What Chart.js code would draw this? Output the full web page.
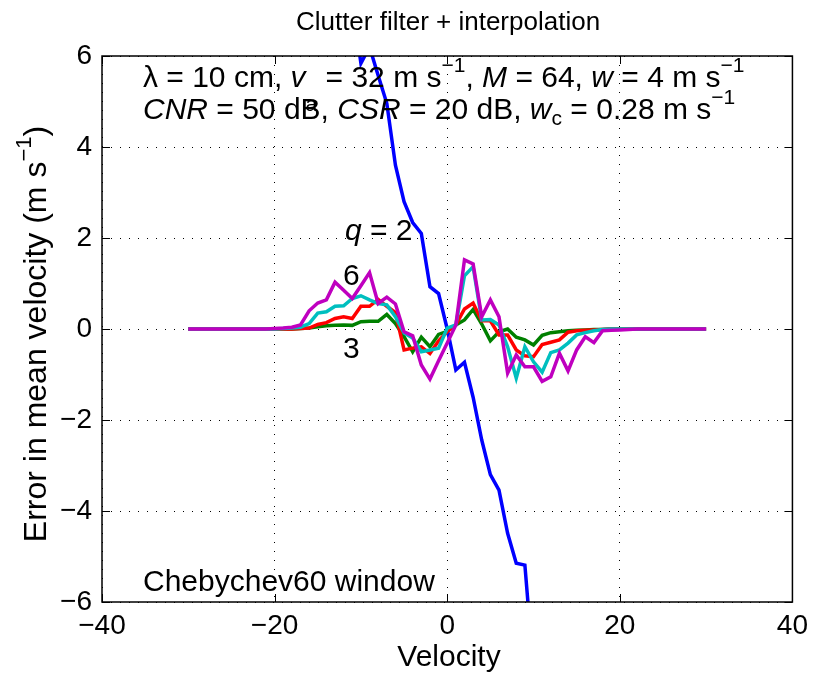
<!DOCTYPE html>
<html>
<head>
<meta charset="utf-8">
<script src="https://cdn.jsdelivr.net/npm/chart.js@4/dist/chart.umd.min.js"></script>
<style>body{margin:0;background:#fff}</style>
</head>
<body>
<canvas id="myChart" width="815" height="675"></canvas>
<script>
// velocity bins (m/s)
const velocity = [];
for (let v = -30; v <= 30; v++) velocity.push(v);

// error in mean velocity, one array per q
const q2 = [null, null, null, null, null, null, null, null, null, null,
  null, null, null, null, null, null, null, null, null, 7.2,
  5.84, 6.2, 5.57, 4.96, 3.6, 2.8, 2.34, 2.1, 0.93, 0.78,
  0.0, -0.9, -0.73, -1.5, -2.44, -3.2, -3.54, -4.49, -5.15, -5.19,
  -7.5, null, null, null, null, null, null, null, null, null,
  null, null, null, null, null, null, null, null, null, null, null];
const q3 = [0, 0, 0, 0, 0, 0, 0, 0, 0, 0,
  0, 0, 0, 0.01, 0.02, 0.05, 0.07, 0.08, 0.09, 0.08,
  0.16, 0.17, 0.17, 0.32, 0.12, -0.17, -0.5, -0.18, -0.39, -0.12,
  -0.05, 0.09, 0.2, 0.43, 0.11, -0.26, -0.06, 0.0, -0.18, -0.24,
  -0.35, -0.14, -0.08, -0.06, -0.04, -0.03, -0.02, -0.01, -0.01, 0,
  0, 0, 0, 0, 0, 0, 0, 0, 0, 0, 0];
const q4 = [0, 0, 0, 0, 0, 0, 0, 0, 0, 0,
  0, 0, 0, 0.01, 0.02, 0.10, 0.14, 0.23, 0.27, 0.23,
  0.5, 0.5, 0.65, 0.5, 0.36, -0.46, -0.42, -0.39, -0.54, -0.26,
  -0.06, 0.09, 0.44, 0.57, 0.18, 0.18, -0.13, -0.13, -0.46, -0.59,
  -0.61, -0.34, -0.29, -0.24, -0.07, -0.04, -0.03, -0.02, -0.01, 0,
  0, 0, 0, 0, 0, 0, 0, 0, 0, 0, 0];
const q5 = [0, 0, 0, 0, 0, 0, 0, 0, 0, 0,
  0, 0.01, 0.02, 0.04, 0.12, 0.35, 0.38, 0.50, 0.51, 0.67,
  0.73, 0.64, 0.56, 0.53, 0.27, -0.09, -0.2, -0.5, -0.46, -0.42,
  0.02, 0.09, 1.17, 1.37, 0.2, 0.21, 0.09, -0.39, -1.08, -0.39,
  -0.72, -0.95, -0.52, -0.46, -0.31, -0.13, -0.08, -0.04, -0.01, 0,
  0, 0, 0, 0, 0, 0, 0, 0, 0, 0, 0];
const q6 = [0, 0, 0, 0, 0, 0, 0, 0, 0, 0,
  0.01, 0.02, 0.04, 0.09, 0.40, 0.57, 0.64, 1.03, 0.85, 0.67,
  0.95, 1.24, 0.56, 0.70, 0.55, -0.06, -0.15, -0.79, -1.1, -0.7,
  -0.31, 0.09, 1.52, 1.43, 0.27, 0.64, 0.27, -0.97, -0.57, -0.83,
  -0.83, -1.15, -1.05, -0.53, -0.92, -0.46, -0.17, -0.30, -0.04, -0.03,
  -0.02, -0.01, 0, 0, 0, 0, 0, 0, 0, 0, 0];

const xTicks = [-40, -20, 0, 20, 40];
const yTicks = [-6, -4, -2, 0, 2, 4, 6];

const FONT = '"Liberation Sans", Arial, Helvetica, sans-serif';
const FS = 28;   // tick labels
const FT = 30;   // annotations / x label

const pts = arr => velocity.map((v, i) => ({x: v, y: arr[i]}));
const minus = v => (v < 0 ? '\u2212' + Math.abs(v) : '' + v);

// rich text: segments {t, i (italic), sub, sup}
function segFont(s, size) {
  const sz = (s.sub !== undefined || s.sup !== undefined) ? Math.round(size * 0.7) : size;
  return (s.i ? 'italic ' : '') + sz + 'px ' + FONT;
}
function richWidth(ctx, segs, size) {
  let w = 0;
  segs.forEach(s => { ctx.font = segFont(s, size); w += ctx.measureText(s.t).width; });
  return w;
}
function drawRich(ctx, segs, x, y, size, align) {
  let cx = x;
  if (align === 'center') cx = x - richWidth(ctx, segs, size) / 2;
  ctx.textBaseline = 'alphabetic';
  ctx.textAlign = 'left';
  ctx.fillStyle = '#000';
  segs.forEach(s => {
    ctx.font = segFont(s, size);
    let dy = 0;
    if (s.sub !== undefined) dy = s.sub;
    if (s.sup !== undefined) dy = -s.sup;
    ctx.fillText(s.t, cx, y + dy);
    cx += ctx.measureText(s.t).width;
  });
}

const annotations = {
  id: 'annotations',
  afterDraw(chart) {
    const ctx = chart.ctx;
    const a = chart.chartArea;
    const xs = chart.scales.x, ys = chart.scales.y;
    ctx.save();
    // box
    ctx.strokeStyle = '#000';
    ctx.lineWidth = 1.5;
    ctx.setLineDash([]);
    ctx.strokeRect(a.left, a.top, a.right - a.left, a.bottom - a.top);
    // inner tick marks
    const tl = 8;
    ctx.lineWidth = 1;
    ctx.beginPath();
    xTicks.forEach(t => {
      const px = Math.round(xs.getPixelForValue(t)) + 0.5;
      ctx.moveTo(px, a.bottom); ctx.lineTo(px, a.bottom - tl);
      ctx.moveTo(px, a.top); ctx.lineTo(px, a.top + tl);
    });
    yTicks.forEach(t => {
      const py = Math.round(ys.getPixelForValue(t)) + 0.5;
      ctx.moveTo(a.left, py); ctx.lineTo(a.left + tl, py);
      ctx.moveTo(a.right, py); ctx.lineTo(a.right - tl, py);
    });
    ctx.stroke();

    // title
    drawRich(ctx, [{t: 'Clutter filter + interpolation'}], 448, 30, 26, 'center');
    // parameter lines
    drawRich(ctx, [
      {t: '\u03bb = 10 cm, '}, {t: 'v', i: 1}, {t: 'a', sub: 24},
      {t: ' = 32 m s'}, {t: '\u22121', sup: 15}, {t: ', '},
      {t: 'M', i: 1}, {t: ' = 64, '}, {t: 'w', i: 1}, {t: ' = 4 m s'}, {t: '\u22121', sup: 15}
    ], 143, 87, FT);
    drawRich(ctx, [
      {t: 'CNR', i: 1}, {t: ' = 50 dB, '}, {t: 'CSR', i: 1}, {t: ' = 20 dB, '},
      {t: 'w', i: 1}, {t: 'c', sub: 6}, {t: ' = 0.28 m s'}, {t: '\u22121', sup: 15}
    ], 143, 119, FT);
    // curve labels
    drawRich(ctx, [{t: 'q', i: 1}, {t: ' = 2'}], 345, 240, FT);
    drawRich(ctx, [{t: '6'}], 343, 285, FT);
    drawRich(ctx, [{t: '3'}], 343, 358, FT);
    drawRich(ctx, [{t: 'Chebychev60 window'}], 143, 591, FT);
    // axis titles
    drawRich(ctx, [{t: 'Velocity'}], 449, 666, FT, 'center');
    ctx.translate(46, 334);
    ctx.rotate(-Math.PI / 2);
    drawRich(ctx, [{t: 'Error in mean velocity (m s'}, {t: '\u22121', sup: 15}, {t: ')'}], 0, 0, 32, 'center');
    ctx.restore();
  }
};

const line = (label, data, color) => ({
  label: label,
  data: pts(data),
  borderColor: color,
  borderWidth: 3.5,
  pointRadius: 0,
  tension: 0,
  fill: false,
  clip: 0
});

const ctx = document.getElementById('myChart').getContext('2d');
const myChart = new Chart(ctx, {
  type: 'line',
  data: {
    datasets: [
      line('q = 6', q6, '#bf00bf'),
      line('q = 5', q5, '#00bfbf'),
      line('q = 4', q4, '#ff0000'),
      line('q = 3', q3, '#008000'),
      line('q = 2', q2, '#0000ff')
    ]
  },
  plugins: [annotations],
  options: {
    responsive: false,
    animation: false,
    layout: {padding: {top: 56, right: 21, left: 0, bottom: 0}},
    plugins: {legend: {display: false}, tooltip: {enabled: false}},
    scales: {
      x: {
        type: 'linear', min: -40, max: 40,
        afterFit: s => { s.height = 73; },
        afterBuildTicks: s => { s.ticks = xTicks.map(v => ({value: v})); },
        ticks: {color: '#000', font: {family: FONT, size: FS}, padding: 7, maxRotation: 0, callback: minus},
        grid: {color: '#000', lineWidth: 1, drawTicks: false},
        border: {display: false, dash: [1, 8]}
      },
      y: {
        type: 'linear', min: -6, max: 6,
        afterFit: s => { s.width = 102; },
        afterBuildTicks: s => { s.ticks = yTicks.map(v => ({value: v})); },
        ticks: {color: '#000', font: {family: FONT, size: FS}, padding: 10, callback: minus},
        grid: {color: '#000', lineWidth: 1, drawTicks: false},
        border: {display: false, dash: [1, 8]}
      }
    }
  }
});
</script>
</body>
</html>
